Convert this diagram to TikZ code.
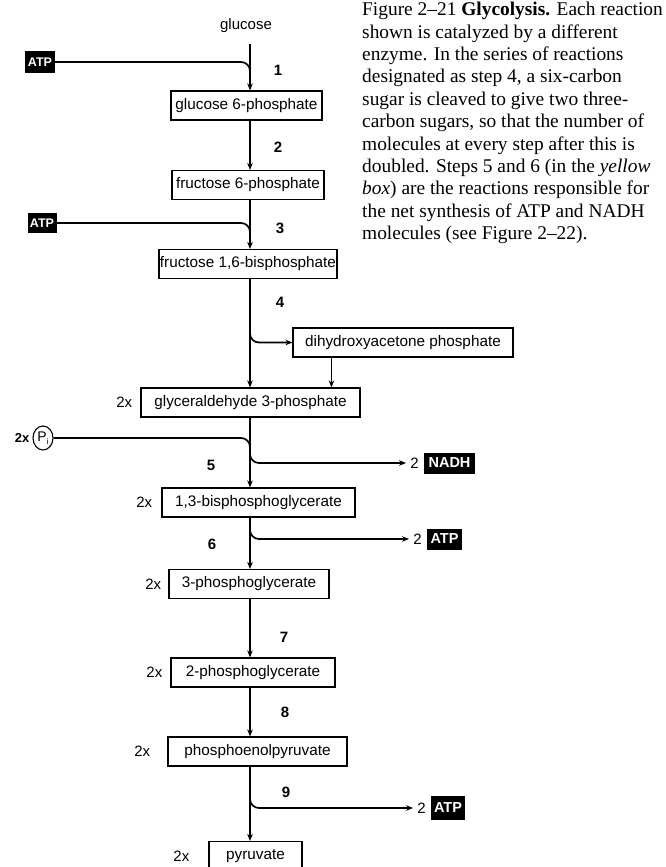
\documentclass[tikz,border=0pt]{standalone}
\usepackage{fontspec}
\setmainfont{Liberation Serif}
\setsansfont{Liberation Sans}
\usetikzlibrary{calc,arrows.meta,positioning,shapes.geometric}
\tikzset {>={Stealth[length=7pt,width=5.5pt]}}
\tikzset{%
  mol/.style={draw,line width=1.1pt,minimum height=29pt,inner sep=1pt,
    font=\sffamily\fontsize{15.3}{15.3}\selectfont},
  blk/.style={fill=black,text=white,minimum height=21pt,inner sep=2pt,
    font=\sffamily\bfseries\fontsize{14.5}{14.5}\selectfont},
  num/.style={font=\sffamily\bfseries\fontsize{15}{15}\selectfont},
  txt/.style={font=\sffamily\fontsize{15}{15}\selectfont},
  feed/.style={line width=1.7pt,rounded corners=9pt},
  flow/.style={feed,->}}

\begin{document}
\begin{tikzpicture}[x=1pt,y=-1pt]
\useasboundingbox (0,0) rectangle (665,867);
\coordinate (spine) at (250,0);
\node[txt,inner ysep=11pt] (glc) at (246,26) {glucose};
\foreach \n/\x/\y/\w/\t in {%
  g6p/246.5/105.5/151/glucose 6-phosphate,
  f6p/248/185/152/fructose 6-phosphate,
  f16bp/248/264/178/{fructose 1,6-bisphosphate},
  dhap/403/342.5/220/dihydroxyacetone phosphate,
  g3p/250.5/402.5/219/glyceraldehyde 3-phosphate,
  bpg/258.5/502.5/193/{1,3-bisphosphoglycerate},
  pga/249/584/160/3-phosphoglycerate,
  pgb/253/672.5/164/2-phosphoglycerate,
  pep/257.5/751.5/179/phosphoenolpyruvate,
  pyr/255.5/856/93/pyruvate}
  \node[mol,minimum width=\w pt] (\n) at (\x,\y) {\t};
\foreach \n/\d in {g3p/8pt,bpg/9pt,pga/7pt,pgb/8pt,pep/17pt,pyr/19pt}
  \node[txt,inner sep=0pt,left=\d of \n] (x\n) {2x};
\node[blk,minimum width=30pt,font=\sffamily\bfseries\fontsize{12.5}{12.5}\selectfont]
  (atpA) at (40,62) {ATP};
\node[blk,minimum width=29pt,minimum height=20pt,
  font=\sffamily\bfseries\fontsize{12.5}{12.5}\selectfont] (atpB) at (42,223) {ATP};
\node[blk,minimum width=51pt] (nadh) at (449.5,463) {NADH};
\node[blk,minimum width=35pt] (atpC) at (444.5,539) {ATP};
\node[blk,minimum width=34pt,minimum height=24pt] (atpD) at (448,808) {ATP};
\foreach \b in {nadh,atpC,atpD}
  \node[txt,inner sep=0pt,left=5pt of \b] (two\b) {2};
\node[draw,ellipse,line width=1.1pt,minimum width=20pt,minimum height=24pt,
  inner sep=0pt,font=\sffamily\fontsize{14}{14}\selectfont]
  (pi) at (43,438) {P\raisebox{-3pt}{\fontsize{8}{8}\selectfont i}};
\node[num,font=\sffamily\bfseries\fontsize{13}{13}\selectfont,inner sep=0pt,
  left=3pt of pi] (xpi) {2x};
\foreach \n/\x/\y in {1/278/70,2/278/147,3/280/228,4/280/302,5/211/465,
  6/212/544,7/284/637,8/285/712,9/286/792}
  \node[num] (s\n) at (\x,\y) {\n};
\foreach \a/\b in {glc/g6p,g6p/f6p,f6p/f16bp,f16bp/g3p,g3p/bpg,bpg/pga,
  pga/pgb,pgb/pep,pep/pyr}
  \draw[flow] (\a.south -| spine) -- (\b.north -| spine);
\foreach \a in {atpA,atpB,pi}
  \draw[feed] (\a.east) -- (\a.east -| spine) -- ++(0,16);
\draw[flow] ($(dhap.west -| spine)+(0,-16)$) -- (dhap.west -| spine) -- (dhap.west);
\foreach \b in {nadh,atpC,atpD}
  \draw[flow,shorten >=4pt] ($(two\b.west -| spine)+(0,-16)$) -- (two\b.west -| spine)
    -- (two\b.west);
\coordinate (dh) at ($(dhap.south west)+(39,0)$);
\draw[flow] (dh) -- (dh |- g3p.north);
\node[anchor=north west,inner sep=0pt,align=left,
  font=\fontsize{19.4}{22.4}\selectfont] (cap) at (362,2)
  {Figure 2–21 \textbf{Glycolysis.} Each reaction\\
   shown is catalyzed by a different\\
   enzyme. In the series of reactions\\
   designated as step 4, a six-carbon\\
   sugar is cleaved to give two three-\\
   carbon sugars, so that the number of\\
   molecules at every step after this is\\
   doubled. Steps 5 and 6 (in the \textit{yellow}\\
   \textit{box}) are the reactions responsible for\\
   the net synthesis of ATP and NADH\\
   molecules (see Figure 2–22).};
\end{tikzpicture}
\end{document}
